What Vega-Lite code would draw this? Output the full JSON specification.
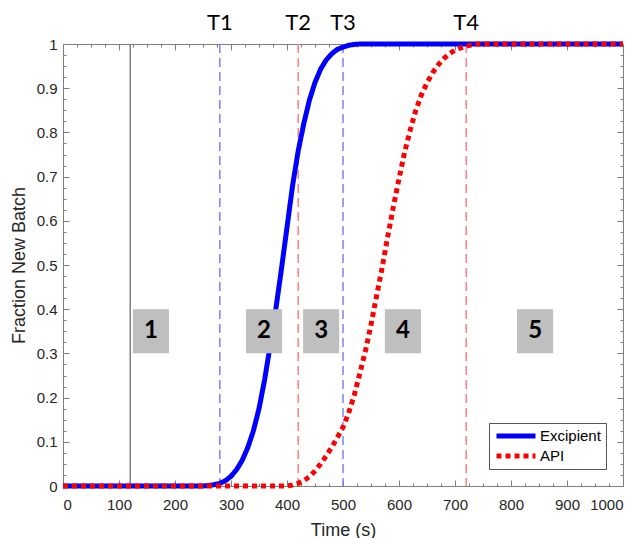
{
  "$schema": "https://vega.github.io/schema/vega-lite/v6.json",
  "width": 560,
  "height": 442,
  "autosize": {"type": "none"},
  "padding": {"left": 63, "top": 44, "right": 21, "bottom": 52},
  "background": "white",
  "config": {
    "view": {"stroke": "#7f7f7f", "strokeWidth": 1},
    "axis": {
      "domain": false,
      "grid": false,
      "tickColor": "#7f7f7f",
      "tickWidth": 1,
      "labelColor": "#262626",
      "labelFont": "Liberation Sans",
      "labelFontSize": 15,
      "titleFont": "Liberation Sans",
      "titleFontSize": 18,
      "titleFontWeight": "normal",
      "titleColor": "#262626"
    }
  },
  "datasets": {
    "curves": [
      {"series": "Excipient", "t": 0, "y": 0},
      {"series": "Excipient", "t": 250, "y": 0},
      {"series": "Excipient", "t": 260, "y": 0.001},
      {"series": "Excipient", "t": 270, "y": 0.003},
      {"series": "Excipient", "t": 280, "y": 0.006},
      {"series": "Excipient", "t": 290, "y": 0.012},
      {"series": "Excipient", "t": 300, "y": 0.022},
      {"series": "Excipient", "t": 310, "y": 0.037},
      {"series": "Excipient", "t": 320, "y": 0.058},
      {"series": "Excipient", "t": 330, "y": 0.087},
      {"series": "Excipient", "t": 340, "y": 0.125},
      {"series": "Excipient", "t": 350, "y": 0.175},
      {"series": "Excipient", "t": 360, "y": 0.24},
      {"series": "Excipient", "t": 370, "y": 0.318},
      {"series": "Excipient", "t": 380, "y": 0.4},
      {"series": "Excipient", "t": 390, "y": 0.49},
      {"series": "Excipient", "t": 400, "y": 0.585},
      {"series": "Excipient", "t": 410, "y": 0.68},
      {"series": "Excipient", "t": 420, "y": 0.758},
      {"series": "Excipient", "t": 430, "y": 0.82},
      {"series": "Excipient", "t": 440, "y": 0.873},
      {"series": "Excipient", "t": 450, "y": 0.913},
      {"series": "Excipient", "t": 460, "y": 0.943},
      {"series": "Excipient", "t": 470, "y": 0.964},
      {"series": "Excipient", "t": 480, "y": 0.978},
      {"series": "Excipient", "t": 490, "y": 0.988},
      {"series": "Excipient", "t": 500, "y": 0.993},
      {"series": "Excipient", "t": 510, "y": 0.997},
      {"series": "Excipient", "t": 520, "y": 0.999},
      {"series": "Excipient", "t": 530, "y": 1},
      {"series": "Excipient", "t": 1000, "y": 1},
      {"series": "API", "t": 0, "y": 0},
      {"series": "API", "t": 400, "y": 0},
      {"series": "API", "t": 410, "y": 0.002},
      {"series": "API", "t": 420, "y": 0.006},
      {"series": "API", "t": 430, "y": 0.012},
      {"series": "API", "t": 440, "y": 0.021},
      {"series": "API", "t": 450, "y": 0.034},
      {"series": "API", "t": 460, "y": 0.05},
      {"series": "API", "t": 470, "y": 0.068},
      {"series": "API", "t": 480, "y": 0.088},
      {"series": "API", "t": 490, "y": 0.11},
      {"series": "API", "t": 500, "y": 0.133},
      {"series": "API", "t": 510, "y": 0.165},
      {"series": "API", "t": 520, "y": 0.205},
      {"series": "API", "t": 530, "y": 0.255},
      {"series": "API", "t": 540, "y": 0.305},
      {"series": "API", "t": 550, "y": 0.365},
      {"series": "API", "t": 560, "y": 0.43},
      {"series": "API", "t": 570, "y": 0.495},
      {"series": "API", "t": 580, "y": 0.565},
      {"series": "API", "t": 590, "y": 0.632},
      {"series": "API", "t": 600, "y": 0.695},
      {"series": "API", "t": 610, "y": 0.755},
      {"series": "API", "t": 620, "y": 0.805},
      {"series": "API", "t": 630, "y": 0.85},
      {"series": "API", "t": 640, "y": 0.885},
      {"series": "API", "t": 650, "y": 0.912},
      {"series": "API", "t": 660, "y": 0.935},
      {"series": "API", "t": 670, "y": 0.953},
      {"series": "API", "t": 680, "y": 0.967},
      {"series": "API", "t": 690, "y": 0.978},
      {"series": "API", "t": 700, "y": 0.986},
      {"series": "API", "t": 710, "y": 0.991},
      {"series": "API", "t": 720, "y": 0.995},
      {"series": "API", "t": 730, "y": 0.998},
      {"series": "API", "t": 740, "y": 1},
      {"series": "API", "t": 1000, "y": 1}
    ],
    "vlines": [
      {"t": 120, "material": "start", "label": ""},
      {"t": 280, "material": "Excipient", "label": "T1"},
      {"t": 420, "material": "API", "label": "T2"},
      {"t": 500, "material": "Excipient", "label": "T3"},
      {"t": 720, "material": "API", "label": "T4"}
    ],
    "zones": [
      {"zone": "1", "t": 157},
      {"zone": "2", "t": 359},
      {"zone": "3", "t": 461},
      {"zone": "4", "t": 607},
      {"zone": "5", "t": 843}
    ]
  },
  "resolve": {"axis": {"x": "independent", "y": "independent"}},
  "layer": [
    {
      "data": {"name": "vlines"},
      "transform": [{"filter": "datum.material === 'start'"}],
      "mark": {"type": "rule", "color": "#808080", "strokeWidth": 1.5},
      "encoding": {
        "x": {
          "field": "t", "type": "quantitative",
          "scale": {"domain": [0, 1000], "nice": false},
          "axis": {"orient": "bottom", "values": [0,100,200,300,400,500,600,700,800,900,1000], "format": "d", "tickSize": -6, "labelPadding": 17, "title": "Time (s)", "titlePadding": 9}
        }
      }
    },
    {
      "data": {"name": "vlines"},
      "transform": [{"filter": "datum.material === 'Excipient'"}],
      "mark": {"type": "rule", "color": "#7f7fff", "strokeWidth": 1.5, "strokeDash": [9, 5]},
      "encoding": {
        "x": {
          "field": "t", "type": "quantitative",
          "scale": {"domain": [0, 1000], "nice": false},
          "axis": {"orient": "bottom", "values": [25,50,75,125,150,175,225,250,275,325,350,375,425,450,475,525,550,575,625,650,675,725,750,775,825,850,875,925,950,975], "tickSize": -3, "labels": false, "title": null}
        }
      }
    },
    {
      "data": {"name": "vlines"},
      "transform": [{"filter": "datum.material === 'API'"}],
      "mark": {"type": "rule", "color": "#ff7f7f", "strokeWidth": 1.5, "strokeDash": [9, 5]},
      "encoding": {
        "x": {
          "field": "t", "type": "quantitative",
          "scale": {"domain": [0, 1000], "nice": false},
          "axis": {"orient": "top", "values": [0,100,200,300,400,500,600,700,800,900,1000], "tickSize": -6, "labels": false, "title": null}
        }
      }
    },
    {
      "data": {"name": "curves"},
      "transform": [{"filter": "datum.series === 'Excipient'"}],
      "mark": {"type": "line", "strokeWidth": 5, "strokeCap": "butt"},
      "encoding": {
        "x": {
          "field": "t", "type": "quantitative",
          "scale": {"domain": [0, 1000], "nice": false},
          "axis": {"orient": "top", "values": [25,50,75,125,150,175,225,250,275,325,350,375,425,450,475,525,550,575,625,650,675,725,750,775,825,850,875,925,950,975], "tickSize": -3, "labels": false, "title": null}
        },
        "y": {
          "field": "y", "type": "quantitative",
          "scale": {"domain": [0, 1], "nice": false},
          "axis": {"orient": "left", "values": [0,0.1,0.2,0.3,0.4,0.5,0.6,0.7,0.8,0.9,1], "format": "~g", "tickSize": -6, "labelPadding": 12, "title": "Fraction New Batch", "titlePadding": 8}
        },
        "color": {
          "field": "series", "type": "nominal",
          "scale": {"domain": ["Excipient", "API"], "range": ["#0000ff", "#ff0000"]},
          "legend": {
            "title": null, "orient": "none", "legendX": 426, "legendY": 379,
            "symbolType": "stroke", "symbolSize": 1521, "symbolStrokeWidth": 5,
            "clipHeight": 16, "labelFontSize": 15, "labelFont": "Liberation Sans", "labelColor": "#000000",
            "labelOffset": 2, "padding": 5, "rowPadding": 4,
            "strokeColor": "#555555", "fillColor": "#ffffff"
          }
        },
        "strokeDash": {
          "field": "series", "type": "nominal",
          "scale": {"domain": ["Excipient", "API"], "range": [[1, 0], [5, 4]]},
          "legend": null
        }
      }
    },
    {
      "data": {"name": "curves"},
      "transform": [{"filter": "datum.series === 'API'"}],
      "mark": {"type": "line", "strokeWidth": 5, "strokeCap": "butt"},
      "encoding": {
        "x": {
          "field": "t", "type": "quantitative",
          "scale": {"domain": [0, 1000], "nice": false},
          "axis": null
        },
        "y": {
          "field": "y", "type": "quantitative",
          "scale": {"domain": [0, 1], "nice": false},
          "axis": {"orient": "left", "values": [0.025,0.05,0.075,0.125,0.15,0.175,0.225,0.25,0.275,0.325,0.35,0.375,0.425,0.45,0.475,0.525,0.55,0.575,0.625,0.65,0.675,0.725,0.75,0.775,0.825,0.85,0.875,0.925,0.95,0.975], "tickSize": -3, "labels": false, "title": null}
        },
        "color": {"field": "series", "type": "nominal"},
        "strokeDash": {"field": "series", "type": "nominal", "legend": null}
      }
    },
    {
      "data": {"name": "zones"},
      "mark": {"type": "point", "filled": true, "opacity": 1, "color": "#bfbfbf", "shape": "M-0.82,-1L0.82,-1L0.82,1L-0.82,1Z", "size": 1936},
      "encoding": {
        "x": {"field": "t", "type": "quantitative", "axis": null},
        "y": {
          "datum": 0.35, "type": "quantitative",
          "axis": {"orient": "right", "values": [0,0.1,0.2,0.3,0.4,0.5,0.6,0.7,0.8,0.9,1], "tickSize": -6, "labels": false, "title": null}
        }
      }
    },
    {
      "data": {"name": "zones"},
      "mark": {"type": "text", "font": "Lato", "fontWeight": "bold", "fontSize": 24, "color": "#000000", "align": "center", "baseline": "middle"},
      "encoding": {
        "x": {"field": "t", "type": "quantitative", "axis": null},
        "y": {
          "datum": 0.35, "type": "quantitative",
          "axis": {"orient": "right", "values": [0.025,0.05,0.075,0.125,0.15,0.175,0.225,0.25,0.275,0.325,0.35,0.375,0.425,0.45,0.475,0.525,0.55,0.575,0.625,0.65,0.675,0.725,0.75,0.775,0.825,0.85,0.875,0.925,0.95,0.975], "tickSize": -3, "labels": false, "title": null}
        },
        "text": {"field": "zone"}
      }
    },
    {
      "data": {"name": "vlines"},
      "transform": [{"filter": "datum.label !== ''"}],
      "mark": {"type": "text", "font": "Lato", "fontSize": 22, "color": "#000000", "align": "center", "baseline": "middle"},
      "encoding": {
        "x": {"field": "t", "type": "quantitative", "axis": null},
        "y": {"datum": 1.047, "type": "quantitative", "axis": null},
        "text": {"field": "label"}
      }
    }
  ]
}
